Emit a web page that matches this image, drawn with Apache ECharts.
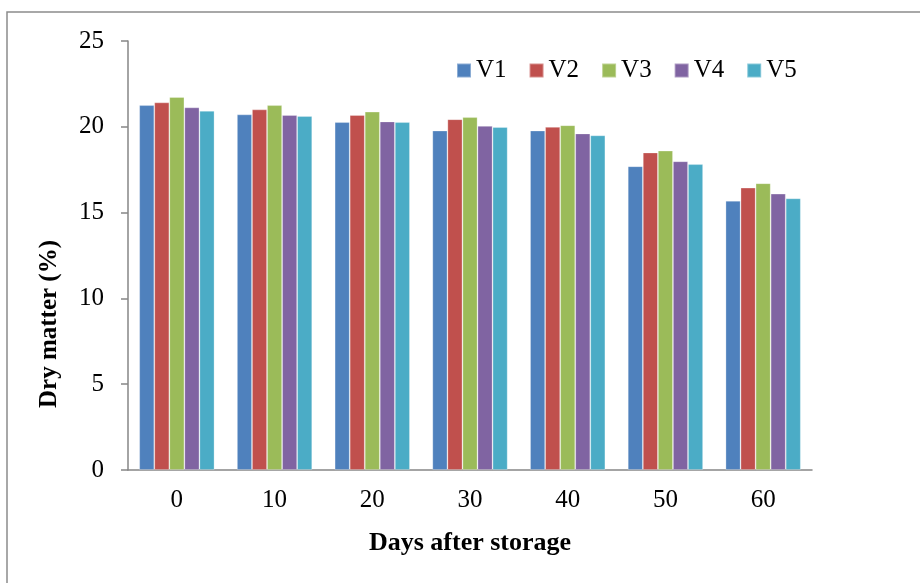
<!DOCTYPE html>
<html>
<head>
<meta charset="utf-8">
<script src="https://cdn.jsdelivr.net/npm/echarts@6/dist/echarts.min.js"></script>
<style>
  html, body { margin: 0; padding: 0; background: #fff; }
  #chart { width: 920px; height: 583px; }
</style>
</head>
<body>
<div id="chart"></div>
<script>
// Days after storage
const days = ['0', '10', '20', '30', '40', '50', '60'];
// Dry matter (%) for each variety
const v1 = [21.26, 20.72, 20.27, 19.78, 19.78, 17.70, 15.69];
const v2 = [21.42, 21.01, 20.68, 20.44, 19.99, 18.50, 16.45];
const v3 = [21.73, 21.26, 20.88, 20.56, 20.09, 18.61, 16.71];
const v4 = [21.13, 20.68, 20.31, 20.05, 19.61, 17.99, 16.10];
const v5 = [20.93, 20.62, 20.27, 19.98, 19.50, 17.82, 15.83];
const seriesNames = ['V1', 'V2', 'V3', 'V4', 'V5'];
const seriesData = [v1, v2, v3, v4, v5];
const colors = ['#4F81BD', '#C0504D', '#9BBB59', '#8064A2', '#4BACC6'];

const font = '"Liberation Serif", "Times New Roman", serif';
const axisGray = '#868686';

const chart = echarts.init(document.getElementById('chart'));
chart.setOption({
  animation: false,
  color: colors,
  textStyle: { fontFamily: font },
  grid: { left: 128, right: 108, top: 41, bottom: 113, containLabel: false },
  legend: {
    data: seriesNames,
    left: 451,
    top: 53,
    padding: 5,
    itemWidth: 14,
    itemHeight: 14,
    itemGap: 22,
    icon: 'rect',
    textStyle: { fontFamily: font, fontSize: 25, color: '#000', padding: [2, 0, 0, 0] }
  },
  xAxis: {
    type: 'category',
    data: days,
    axisLine: { lineStyle: { color: axisGray, width: 1.5 } },
    axisTick: { show: false },
    axisLabel: { fontFamily: font, fontSize: 25, color: '#000', margin: 18 },
    name: 'Days after storage',
    nameLocation: 'middle',
    nameGap: 60,
    nameTextStyle: { fontFamily: font, fontSize: 26, fontWeight: 'bold', color: '#000' }
  },
  yAxis: {
    type: 'value',
    min: 0,
    max: 25,
    interval: 5,
    splitLine: { show: false },
    axisLine: { show: true, lineStyle: { color: axisGray, width: 1.5 } },
    axisTick: { show: true, length: 7, lineStyle: { color: axisGray, width: 1.5 } },
    axisLabel: { fontFamily: font, fontSize: 25, color: '#000', margin: 24 }
  },
  graphic: [
    {
      type: 'rect',
      shape: { x: 7, y: 12, width: 1000, height: 1000 },
      style: { fill: 'none', stroke: '#8c8c8c', lineWidth: 1.5 },
      silent: true
    },
    {
      type: 'text',
      x: 50,
      y: 324,
      rotation: Math.PI / 2,
      style: {
        text: 'Dry matter (%)',
        font: 'bold 25px ' + font,
        fill: '#000',
        textAlign: 'center',
        textVerticalAlign: 'middle'
      }
    }
  ],
  series: seriesNames.map((name, i) => ({
    name: name,
    type: 'bar',
    data: seriesData[i],
    barGap: '0%',
    barCategoryGap: '23%',
    itemStyle: { borderColor: 'rgba(255,255,255,0.35)', borderWidth: 0.8 }
  }))
});
</script>
</body>
</html>
